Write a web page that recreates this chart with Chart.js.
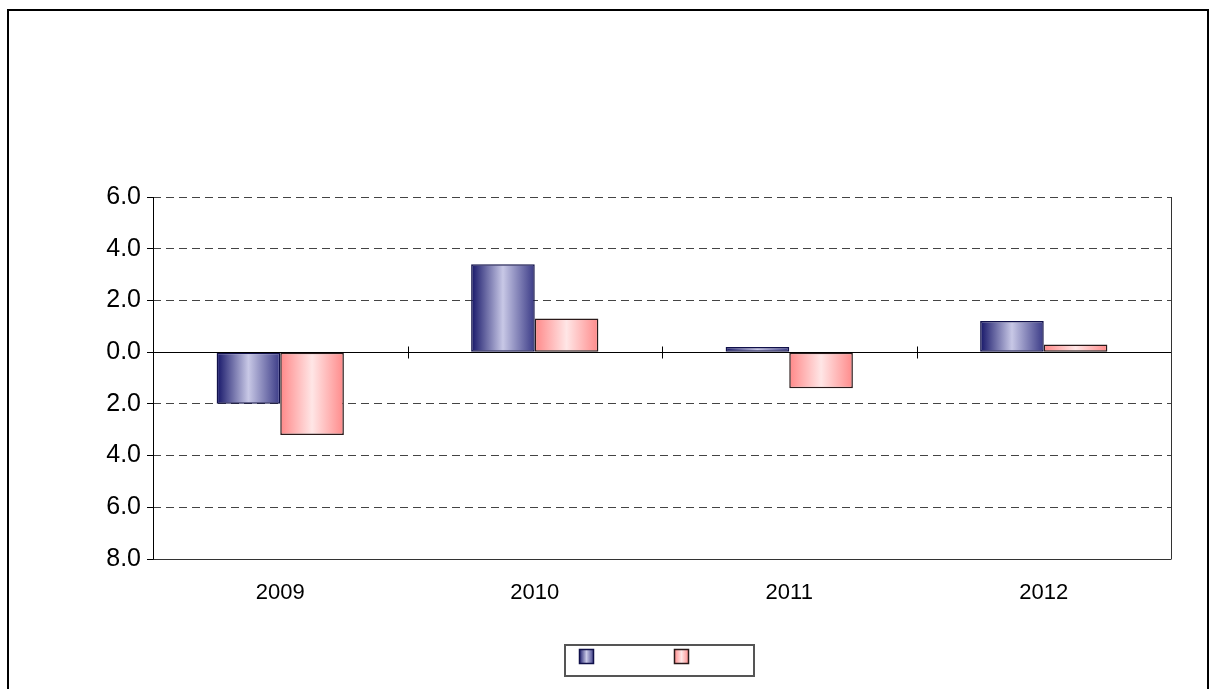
<!DOCTYPE html>
<html>
<head>
<meta charset="utf-8">
<script src="https://cdn.jsdelivr.net/npm/chart.js@4/dist/chart.umd.min.js"></script>
<style>
html,body{margin:0;padding:0;background:#fff;}
#wrap{width:1210px;height:689px;position:relative;}
</style>
</head>
<body>
<div id="wrap"><canvas id="c" width="1210" height="689"></canvas></div>
<script>
const categories = ['2009', '2010', '2011', '2012'];
const seriesNames = ['', ''];
const seriesA = [-2.0, 3.4, 0.2, 1.2];
const seriesB = [-3.2, 1.3, -1.4, 0.3];
const yTickValues = [-8, -6, -4, -2, 0, 2, 4, 6];
const yTickLabels = ['8.0', '6.0', '4.0', '2.0', '0.0', '2.0', '4.0', '6.0'];

const gradStops = [
  [[0, '#151568'], [0.5, '#c8c8e6'], [1, '#3a3a86']],
  [[0, '#ff8888'], [0.5, '#ffe6e6'], [1, '#ff8a8a']]
];

const gradientPlugin = {
  id: 'gradBars',
  beforeDatasetsDraw(chart) {
    const ctx = chart.ctx;
    chart.data.datasets.forEach((ds, di) => {
      const meta = chart.getDatasetMeta(di);
      meta.data.forEach(el => {
        const left = el.x - el.width / 2;
        const g = ctx.createLinearGradient(left, 0, left + el.width, 0);
        gradStops[di].forEach(s => g.addColorStop(s[0], s[1]));
        el.options = Object.assign({}, el.options, {backgroundColor: g});
      });
    });
  }
};

const framePlugin = {
  id: 'frame',
  beforeDatasetsDraw(chart) {
    const ctx = chart.ctx, a = chart.chartArea, y = chart.scales.y;
    ctx.save();
    ctx.lineWidth = 1;
    ctx.strokeStyle = '#333';
    ctx.beginPath();
    const yb = Math.round(y.getPixelForValue(-8)) + 0.5;
    ctx.moveTo(a.left, yb); ctx.lineTo(a.right, yb);
    ctx.moveTo(Math.round(a.right) + 0.5, a.top); ctx.lineTo(Math.round(a.right) + 0.5, yb);
    ctx.stroke();
    ctx.strokeStyle = '#000';
    ctx.beginPath();
    ctx.moveTo(Math.round(a.left) + 0.5, a.top); ctx.lineTo(Math.round(a.left) + 0.5, yb);
    ctx.stroke();
    ctx.restore();
  },
  afterDatasetsDraw(chart) {
    const ctx = chart.ctx, a = chart.chartArea, x = chart.scales.x, y = chart.scales.y;
    const y0 = Math.round(y.getPixelForValue(0)) + 0.5;
    ctx.save();
    ctx.lineWidth = 1;
    ctx.strokeStyle = '#000';
    ctx.beginPath();
    ctx.moveTo(a.left, y0); ctx.lineTo(a.right, y0);
    for (let i = 0; i < categories.length - 1; i++) {
      const bx = Math.round((x.getPixelForValue(i) + x.getPixelForValue(i + 1)) / 2) + 0.5;
      ctx.moveTo(bx, y0 - 6); ctx.lineTo(bx, y0 + 6);
    }
    ctx.stroke();
    ctx.restore();
  },
  afterDraw(chart) {
    const ctx = chart.ctx, a = chart.chartArea;
    ctx.save();
    ctx.strokeStyle = '#000';
    ctx.lineWidth = 2;
    ctx.beginPath();
    ctx.moveTo(8, 700); ctx.lineTo(8, 10); ctx.lineTo(1208, 10); ctx.lineTo(1208, 700);
    ctx.stroke();
    const cx = (a.left + a.right) / 2 - 3;
    const lw = 189, lh = 31, lx = Math.round(cx - lw / 2), ly = 645;
    ctx.lineWidth = 2;
    ctx.strokeStyle = '#555';
    ctx.strokeRect(lx, ly, lw, lh);
    chart.data.datasets.forEach((ds, di) => {
      const sx = lx + 14 + di * 95, sy = ly + 4, sw = 15, sh = 15;
      const g = ctx.createLinearGradient(sx, 0, sx + sw, 0);
      gradStops[di].forEach(s => g.addColorStop(s[0], s[1]));
      ctx.fillStyle = g;
      ctx.fillRect(sx, sy, sw, sh);
      ctx.lineWidth = 1.5;
      ctx.strokeStyle = ds.borderColor;
      ctx.strokeRect(sx + 0.5, sy + 0.5, sw - 1, sh - 1);
      if (ds.label) {
        ctx.fillStyle = '#000';
        ctx.font = '18px "Liberation Sans"';
        ctx.textBaseline = 'middle';
        ctx.fillText(ds.label, sx + sw + 6, sy + sh / 2);
      }
    });
    ctx.restore();
  }
};

new Chart(document.getElementById('c'), {
  type: 'bar',
  data: {
    labels: categories,
    datasets: [
      {label: seriesNames[0], data: seriesA, backgroundColor: '#8888bb', borderColor: '#10104a', borderWidth: 1.5, borderSkipped: false},
      {label: seriesNames[1], data: seriesB, backgroundColor: '#ffb0b0', borderColor: '#2a1a1a', borderWidth: 1.5, borderSkipped: false}
    ]
  },
  options: {
    responsive: false,
    animation: false,
    devicePixelRatio: 1,
    layout: {padding: {left: 0, top: 197, right: 39, bottom: 0}},
    plugins: {legend: {display: false}, tooltip: {enabled: false}},
    datasets: {bar: {categoryPercentage: 0.5, barPercentage: 1.0}},
    scales: {
      x: {
        grid: {display: false, drawTicks: false},
        border: {display: false},
        ticks: {color: '#000', padding: 21, font: {family: '"Liberation Sans", Arial, sans-serif', size: 22}},
        afterFit: s => { s.height = 130; }
      },
      y: {
        min: -8, max: 6,
        afterBuildTicks: s => { s.ticks = yTickValues.map(v => ({value: v})); },
        grid: {
          color: c => (c.tick && (c.tick.value === 0 || c.tick.value === -8)) ? 'rgba(0,0,0,0)' : '#444',
          lineWidth: 1,
          tickLength: 6,
          tickColor: '#000',
          tickBorderDash: []
        },
        border: {display: false, dash: [8, 5]},
        ticks: {
          color: '#000',
          padding: 6,
          font: {family: '"Liberation Sans", Arial, sans-serif', size: 25},
          callback: (v, i) => yTickLabels[i]
        },
        afterFit: s => { s.width = 153; }
      }
    }
  },
  plugins: [gradientPlugin, framePlugin]
});
</script>
</body>
</html>
